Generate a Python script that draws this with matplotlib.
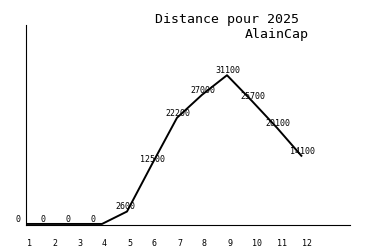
import matplotlib
matplotlib.use("Agg")
import matplotlib.pyplot as plt

# monthly distance, 2025
months = [1, 2, 3, 4, 5, 6, 7, 8, 9, 10, 11, 12]
distance = [0, 0, 0, 0, 2600, 12500, 22200, 27000, 31100, 25700, 20100, 14100]
month_labels = [str(m) for m in months]

title = "Distance pour 2025"
author = "AlainCap"

plt.rcParams['font.family'] = ['DejaVu Sans Mono']

fig = plt.figure(figsize=(3.75, 2.5), dpi=100)
ax = fig.add_axes([25.5 / 375, 0.1, 324.5 / 375, 0.8])

ax.plot(months, distance, color='black', linewidth=1.4, solid_capstyle='butt')

# value labels: left edge 12 px left of point, sitting just above it
for m, d in zip(months, distance):
    ax.annotate(str(d), (m, d), xytext=(-8.6, 1.5), textcoords='offset points',
                ha='left', va='baseline', fontsize=6)

ax.set_xlim(0.94, 13.92)
ax.set_ylim(-220, 41600)

ax.set_xticks(months)
ax.set_xticklabels(month_labels, fontsize=6)
for lab in ax.get_xticklabels():
    lab.set_horizontalalignment('left')
ax.tick_params(axis='x', length=0, pad=10)
ax.set_yticks([])

for side in ['top', 'right']:
    ax.spines[side].set_visible(False)
for side in ['left', 'bottom']:
    ax.spines[side].set_linewidth(0.8)
    ax.spines[side].set_color('black')

fig.text(155 / 375, 1 - 23 / 250, title, fontsize=9.5, ha='left', va='baseline')
fig.text(245 / 375, 1 - 38 / 250, author, fontsize=9.5, ha='left', va='baseline')

fig.savefig('out.png', dpi=100)
